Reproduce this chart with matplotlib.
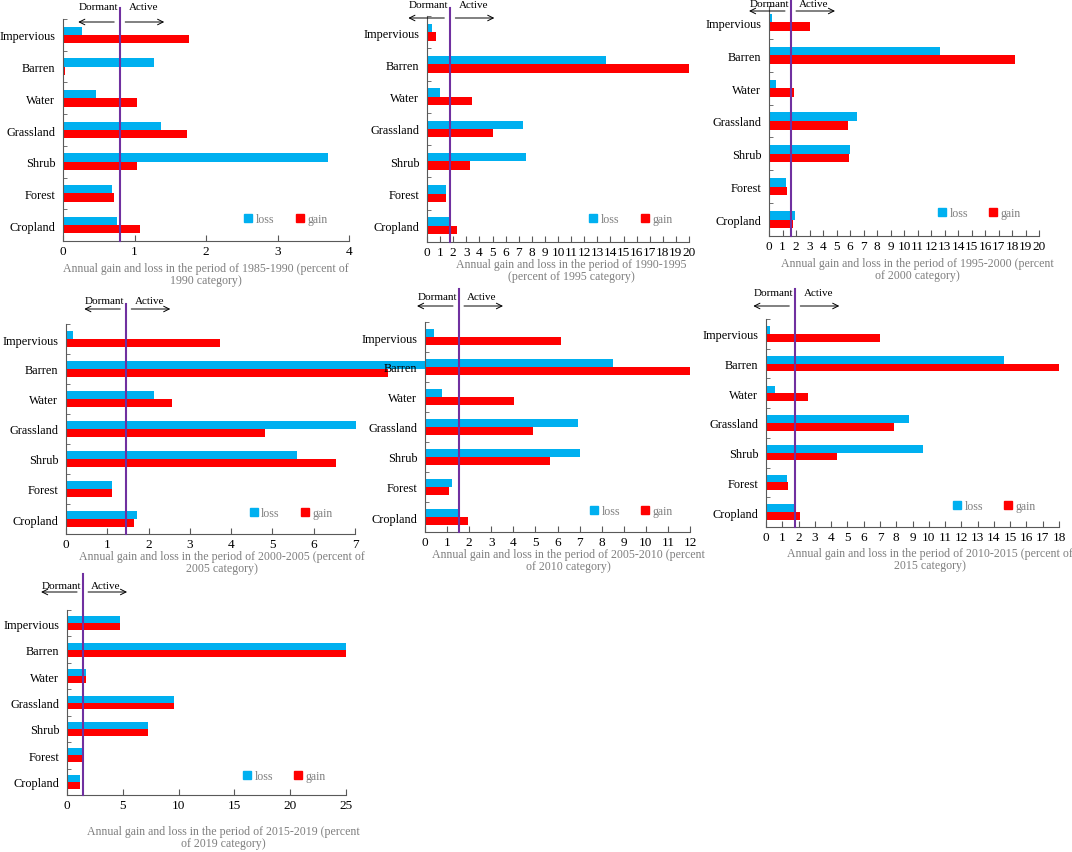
import matplotlib
matplotlib.use("Agg")
import matplotlib.pyplot as plt
import matplotlib.transforms as mtransforms
from matplotlib.lines import Line2D

plt.rcParams['font.family'] = ['Liberation Serif', 'DejaVu Serif']

categories = ["Cropland", "Forest", "Shrub", "Grassland", "Water", "Barren", "Impervious"]

loss_1990 = [0.75, 0.69, 3.71, 1.37, 0.46, 1.27, 0.27]
gain_1990 = [1.07, 0.72, 1.04, 1.74, 1.04, 0.03, 1.76]
loss_1995 = [1.73, 1.45, 7.59, 7.36, 0.96, 13.7, 0.38]
gain_1995 = [2.28, 1.45, 3.25, 5.03, 3.43, 20.0, 0.71]
loss_2000 = [1.90, 1.23, 5.99, 6.49, 0.52, 12.68, 0.20]
gain_2000 = [1.80, 1.31, 5.89, 5.84, 1.82, 18.25, 3.00]
loss_2005 = [1.73, 1.11, 5.60, 7.02, 2.13, 8.70, 0.16]
gain_2005 = [1.65, 1.11, 6.53, 4.81, 2.57, 7.80, 3.74]
loss_2010 = [1.60, 1.21, 7.04, 6.94, 0.77, 8.50, 0.42]
gain_2010 = [1.95, 1.07, 5.64, 4.89, 4.04, 12.0, 6.14]
loss_2015 = [1.80, 1.27, 9.67, 8.81, 0.55, 14.6, 0.25]
gain_2015 = [2.10, 1.33, 4.38, 7.89, 2.56, 18.0, 6.99]
loss_2019 = [1.14, 1.44, 7.24, 9.57, 1.73, 25.0, 4.72]
gain_2019 = [1.14, 1.44, 7.24, 9.57, 1.73, 25.0, 4.72]

# dormant / active threshold for each period
thresholds = [0.8, 1.78, 1.63, 1.46, 1.54, 1.8, 1.44]

labels = [
    "Annual gain and loss in the period of 1985-1990 (percent of\n1990 category)",
    "Annual gain and loss in the period of 1990-1995\n(percent of 1995 category)",
    "Annual gain and loss in the period of 1995-2000 (percent\nof 2000 category)",
    "Annual gain and loss in the period of 2000-2005 (percent of\n2005 category)",
    "Annual gain and loss in the period of 2005-2010 (percent\nof 2010 category)",
    "Annual gain and loss in the period of 2010-2015 (percent of\n2015 category)",
    "Annual gain and loss in the period of 2015-2019 (percent\nof 2019 category)",
]

losses = [loss_1990, loss_1995, loss_2000, loss_2005, loss_2010, loss_2015, loss_2019]
gains = [gain_1990, gain_1995, gain_2000, gain_2005, gain_2010, gain_2015, gain_2019]

# pixel layout: left, top, right, bottom, xmax, step, label x frac, label dy, line top, arrow dy, text dy
layout = [
    (63, 20, 349, 242, 4, 1, 0.50, 21, 9, -3, 13),
    (427, 17, 689, 243, 20, 1, 0.55, 16, 9, -2, 12),
    (769, 7, 1039, 237, 20, 1, 0.55, 21, 0, -5, 3),
    (66, 325, 355, 535, 7, 1, 0.54, 16, 305, 15, 24),
    (425, 323, 690, 533, 12, 1, 0.54, 16, 290, 16, 26),
    (766, 320, 1059, 528, 18, 1, 0.56, 20, 290, 13, 26),
    (67, 611, 346, 796, 25, 5, 0.56, 30, 575, 18, 24),
]

W, H = 1072, 853
fig = plt.figure(figsize=(W / 100, H / 100), dpi=100)

loss_c = '#00B0F0'
gain_c = '#FF0000'
line_c = '#7030A0'
grey = '#595959'
light = '#7f7f7f'

y = list(range(len(categories)))
bh = 0.26

for i in range(len(losses)):
    l, t, r, b, xmax, step, lx, ldy, ltop, ady, tdy = layout[i]
    ax = fig.add_axes([l / W, 1 - b / H, (r - l) / W, (b - t) / H])

    ax.barh([v + bh / 2 for v in y], losses[i], height=bh, color=loss_c, clip_on=False, zorder=2)
    ax.barh([v - bh / 2 for v in y], gains[i], height=bh, color=gain_c, clip_on=False, zorder=2)

    ax.set_xlim(0, xmax)
    ax.set_ylim(-0.5, len(categories) - 0.5)
    ax.set_xticks(list(range(0, xmax + 1, step)))
    ax.set_yticks(y)
    ax.set_yticklabels(categories)
    ax.set_yticks([v + 0.5 for v in y], minor=True)
    ax.tick_params(axis='y', which='major', length=0, pad=5.5, labelsize=8.8)
    ax.tick_params(axis='y', which='minor', length=3, direction='in', color=grey)
    ax.tick_params(axis='x', direction='in', length=4, pad=3, labelsize=9.5, color=grey)
    for s in ['top', 'right']:
        ax.spines[s].set_visible(False)
    for s in ['left', 'bottom']:
        ax.spines[s].set_color(grey)
        ax.spines[s].set_linewidth(0.8)

    # threshold line
    ymax = (b - ltop) / (b - t)
    ax.axvline(thresholds[i], ymin=0, ymax=ymax, color=line_c, lw=1.5, clip_on=False, zorder=3)

    # x label
    lt = mtransforms.offset_copy(ax.transAxes, fig=fig, x=0, y=-ldy, units='dots')
    ax.text(lx, 0, labels[i], transform=lt, ha='center', va='top', fontsize=8.6,
            color=light, linespacing=1.05)

    # Dormant / Active
    blend = mtransforms.blended_transform_factory(ax.transData, ax.transAxes)

    def shifted(dx, dy):
        return blend + mtransforms.Affine2D().translate(dx, dy)

    thr = thresholds[i]
    ax.text(thr, 1, "Dormant", transform=shifted(-22, tdy), ha='center', va='center', fontsize=8)
    ax.text(thr, 1, "Active", transform=shifted(23, tdy), ha='center', va='center', fontsize=8)
    ax.annotate('', xy=(thr, 1), xycoords=shifted(-42, ady), xytext=(thr, 1),
                textcoords=shifted(-6, ady),
                arrowprops=dict(arrowstyle='->', color='black', lw=0.7, shrinkA=0, shrinkB=0))
    ax.annotate('', xy=(thr, 1), xycoords=shifted(44, ady), xytext=(thr, 1),
                textcoords=shifted(5, ady),
                arrowprops=dict(arrowstyle='->', color='black', lw=0.7, shrinkA=0, shrinkB=0))

    handles = [Line2D([], [], marker='s', ls='', color=loss_c, markersize=6),
               Line2D([], [], marker='s', ls='', color=gain_c, markersize=6)]
    ax.legend(handles, ['loss', 'gain'], loc='center', bbox_to_anchor=(0.78, 0.1), ncol=2,
              frameon=False, fontsize=8.6, handlelength=0.6, handletextpad=0.35,
              columnspacing=1.8, labelcolor=light)

fig.savefig('out.png', dpi=100)
